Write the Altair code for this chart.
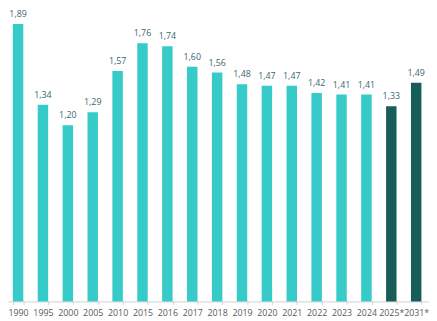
import altair as alt
import pandas as pd

years = ["1990", "1995", "2000", "2005", "2010", "2015", "2016", "2017", "2018",
         "2019", "2020", "2021", "2022", "2023", "2024", "2025*", "2031*"]
values = [1.89, 1.34, 1.20, 1.29, 1.57, 1.76, 1.74, 1.60, 1.56,
          1.48, 1.47, 1.47, 1.42, 1.41, 1.41, 1.33, 1.49]
kinds = ["actual"] * 15 + ["forecast"] * 2

df = pd.DataFrame({
    "year": years,
    "value": values,
    "kind": kinds,
    "label": [f"{v:.2f}".replace(".", ",") for v in values],
})

FONT = "Open Sans"

xscale = alt.Scale(paddingInner=0.58, paddingOuter=0.25, align=0.39, round=False)

x = alt.X(
    "year:N",
    sort=years,
    title=None,
    scale=xscale,
    axis=alt.Axis(
        labelAngle=0,
        labelFont=FONT,
        labelFontSize=9,
        labelColor="#595959",
        labelOverlap=False,
        labelBound=False,
        labelPadding=4,
        domainColor="#D0D0D0",
        domainWidth=1,
        tickColor="#D0D0D0",
        tickSize=3,
        tickBand="extent",
    ),
)

y = alt.Y(
    "value:Q",
    title=None,
    scale=alt.Scale(domain=[0, 1.98], nice=False),
    axis=None,
)

bars = alt.Chart(df).mark_bar().encode(
    x=x,
    y=y,
    color=alt.Color(
        "kind:N",
        scale=alt.Scale(domain=["actual", "forecast"], range=["#36CBC8", "#185E58"]),
        legend=None,
    ),
)

labels = alt.Chart(df).mark_text(
    font=FONT, fontSize=9, color="#3A6670", baseline="alphabetic", dy=-7
).encode(
    x=alt.X("year:N", sort=years, scale=xscale),
    y=alt.Y("value:Q"),
    text="label:N",
)

chart = (bars + labels).properties(
    width=429,
    height=296,
    autosize=alt.AutoSizeParams(type="none"),
    padding={"left": 0, "top": 0, "right": 0, "bottom": 17},
).configure_view(stroke=None)

chart.save("out.html", embed_options={"renderer": "svg", "actions": False})
